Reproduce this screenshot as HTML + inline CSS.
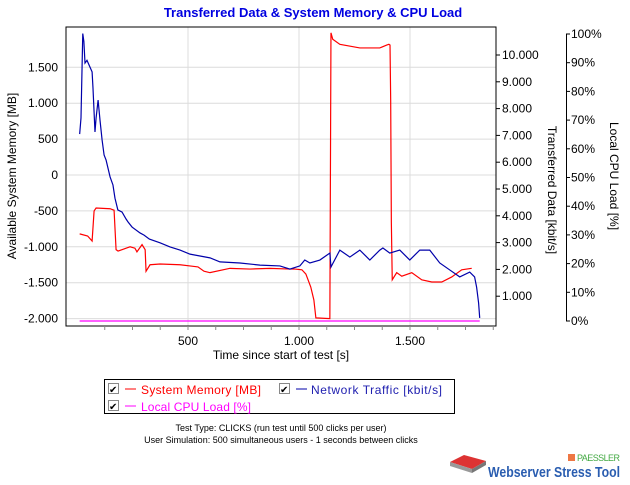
<!DOCTYPE html>
<html><head><meta charset="utf-8"><style>
body{margin:0;background:#fff;width:630px;height:480px;overflow:hidden;font-family:"Liberation Sans",sans-serif}
svg text{font-family:"Liberation Sans",sans-serif}
</style></head><body>
<svg id="c" width="630" height="480" xmlns="http://www.w3.org/2000/svg">
<text x="313" y="17" text-anchor="middle" font-size="13" font-weight="bold" fill="#0000e0">Transferred Data &amp; System Memory &amp; CPU Load</text>
<g id="grid"></g>
<rect x="66" y="27" width="430" height="299" fill="none" stroke="#000" stroke-width="1"/>
<g id="series"></g>
<g id="axes"></g>
<text x="0" y="0" transform="translate(16,176) rotate(-90)" text-anchor="middle" font-size="12">Available System Memory  [MB]</text>
<text x="0" y="0" transform="translate(548,190) rotate(90)" text-anchor="middle" font-size="12">Transferred Data [kbit/s]</text>
<text x="0" y="0" transform="translate(610,176) rotate(90)" text-anchor="middle" font-size="12">Local CPU Load [%]</text>
<text x="281" y="359" text-anchor="middle" font-size="12">Time since start of test [s]</text>
<g>
<rect x="104.5" y="379.5" width="350" height="34" fill="#fff" stroke="#000"/>
<g><rect x="108.5" y="383.5" width="10" height="10" fill="#fff" stroke="#888"/><text x="109" y="393" font-size="10">✔</text><line x1="125" y1="389" x2="136" y2="389" stroke="#f00"/><text x="141" y="394" font-size="12" fill="#f00" textLength="120">System Memory [MB]</text></g>
<g><rect x="279.5" y="383.5" width="10" height="10" fill="#fff" stroke="#888"/><text x="280" y="393" font-size="10">✔</text><line x1="296" y1="389" x2="307" y2="389" stroke="#00a"/><text x="311" y="394" font-size="12" fill="#2020b0" textLength="131">Network Traffic [kbit/s]</text></g>
<g><rect x="108.5" y="400.5" width="10" height="10" fill="#fff" stroke="#888"/><text x="109" y="410" font-size="10">✔</text><line x1="125" y1="406" x2="136" y2="406" stroke="#f0f"/><text x="141" y="411" font-size="12" fill="#f0f" textLength="110">Local CPU Load [%]</text></g>
</g>
<text x="281" y="431" text-anchor="middle" font-size="9">Test Type: CLICKS (run test until 500 clicks per user)</text>
<text x="281" y="443" text-anchor="middle" font-size="9">User Simulation: 500 simultaneous users - 1 seconds between clicks</text>
<g>
<path d="M450 462 l14 -7 l22 6 l-14 8 z" fill="#d33"/><path d="M450 462 l22 7 v4 l-22 -7 z" fill="#999"/><path d="M472 469 l14 -8 v4 l-14 8z" fill="#777"/>
<rect x="568" y="454" width="7" height="7" fill="#e74"/>
<text x="577" y="461" font-size="9" fill="#4a4" textLength="43">PAESSLER</text>
<text x="488" y="477" font-size="15" font-weight="bold" fill="#2a5db0" textLength="132" lengthAdjust="spacingAndGlyphs">Webserver Stress Tool</text>
</g>
</svg>
<script>
const timeS=[12,18,26,31,36,45,68,72,81,86,95,104,113,122,131,149,162,171,184,203,221,230,248,284,302,326,374,419,464,509,554,599,644,734,824,914,959,1004,1026,1049,1094,1139,1144,1184,1229,1274,1319,1364,1378,1409,1454,1499,1544,1589,1634,1679,1724,1769,1791,1800,1809,1814];
const networkKbit=[7050,7650,10800,10500,9700,9800,9370,8770,7130,7650,8320,7540,6830,6270,6080,5450,5150,4660,4220,4140,3880,3770,3580,3360,3280,3130,2990,2840,2720,2570,2500,2430,2280,2240,2160,2130,2010,2130,2350,2240,2350,2610,2090,2720,2460,2720,2350,2720,2800,2610,2720,2350,2720,2720,2240,1980,1720,1900,1720,1340,750,190];
const memTime=[12,48,68,77,86,149,167,176,185,212,239,261,270,293,307,311,329,374,464,518,545,572,599,689,779,869,959,982,1013,1031,1053,1067,1076,1139,1144,1152,1184,1274,1364,1395,1405,1410,1413,1416,1420,1440,1463,1508,1553,1598,1643,1688,1733,1778];
const memMB=[-820,-850,-920,-500,-460,-470,-490,-1040,-1060,-1030,-1000,-1020,-1070,-970,-1040,-1340,-1250,-1240,-1250,-1270,-1280,-1340,-1360,-1300,-1310,-1300,-1310,-1310,-1320,-1380,-1560,-1740,-1990,-2000,1980,1890,1820,1770,1770,1810,1820,1810,1040,-660,-1460,-1360,-1410,-1360,-1460,-1490,-1490,-1420,-1320,-1300];
const cpuTime=[12,1814];
const cpuPct=[0,0];
const leftTicks=[1500,1000,500,0,-500,-1000,-1500,-2000];
const leftLabels=["1.500","1.000","500","0","-500","-1.000","-1.500","-2.000"];
const rightTicks=[1000,2000,3000,4000,5000,6000,7000,8000,9000,10000];
const rightLabels=["1.000","2.000","3.000","4.000","5.000","6.000","7.000","8.000","9.000","10.000"];
const cpuTicks=[0,10,20,30,40,50,60,70,80,90,100];
const xTicks=[500,1000,1500];
const xLabels=["500","1.000","1.500"];

const X=t=>77+t*111/500;
const YL=v=>175-v*0.0718;
const YR=v=>323-v*0.0268;
const YC=p=>321-p*2.87;
const NS="http://www.w3.org/2000/svg";
function mk(parent,tag,attrs){const e=document.createElementNS(NS,tag);for(const k in attrs)e.setAttribute(k,attrs[k]);document.getElementById(parent).appendChild(e);return e;}

leftTicks.forEach((v,i)=>{
  const g=mk('grid','line',{x1:66,x2:496,y1:YL(v),y2:YL(v),stroke:'#dcdcdc'});
  
  
  const t=mk('axes','text',{x:58,y:YL(v)+4,'text-anchor':'end','font-size':12});
  t.textContent=leftLabels[i];
  
  
});
xTicks.forEach((v,i)=>{
  const g=mk('grid','line',{x1:X(v),x2:X(v),y1:27,y2:326,stroke:'#dcdcdc'});
  
  
  const t=mk('axes','text',{x:X(v),y:345,'text-anchor':'middle','font-size':12});
  t.textContent=xLabels[i];
  
  
});
for(let t=125;t<=1875;t+=125){
  const m=mk('axes','line',{x1:X(t),x2:X(t),y1:326,y2:330,stroke:'#888'});
  
  
}
rightTicks.forEach((v,i)=>{
  const m=mk('axes','line',{x1:496,x2:500,y1:YR(v),y2:YR(v),stroke:'#000'});
  
  
  const t=mk('axes','text',{x:502,y:YR(v)+4,'font-size':12});
  t.textContent=rightLabels[i];
  
  
});
const ca=mk('axes','line',{x1:566.5,x2:566.5,y1:YC(100),y2:YC(0),stroke:'#000'});


cpuTicks.forEach(v=>{
  const m=mk('axes','line',{x1:566,x2:570,y1:YC(v),y2:YC(v),stroke:'#000'});
  
  
  const t=mk('axes','text',{x:571,y:YC(v)+4,'font-size':12});
  t.textContent=v+'%';
  
  
});
function poly(ts,vs,yf,color,name){
  const p=mk('series','polyline',{points:ts.map((t,i)=>X(t)+','+yf(vs[i])).join(' '),fill:'none',stroke:color,'stroke-width':1.2});
  
  
}
poly(cpuTime,cpuPct,YC,'#f0f','cpu-load-line');
poly(memTime,memMB,YL,'#f00','system-memory-line');
poly(timeS,networkKbit,YR,'#00a','network-traffic-line');
</script>
</body></html>
